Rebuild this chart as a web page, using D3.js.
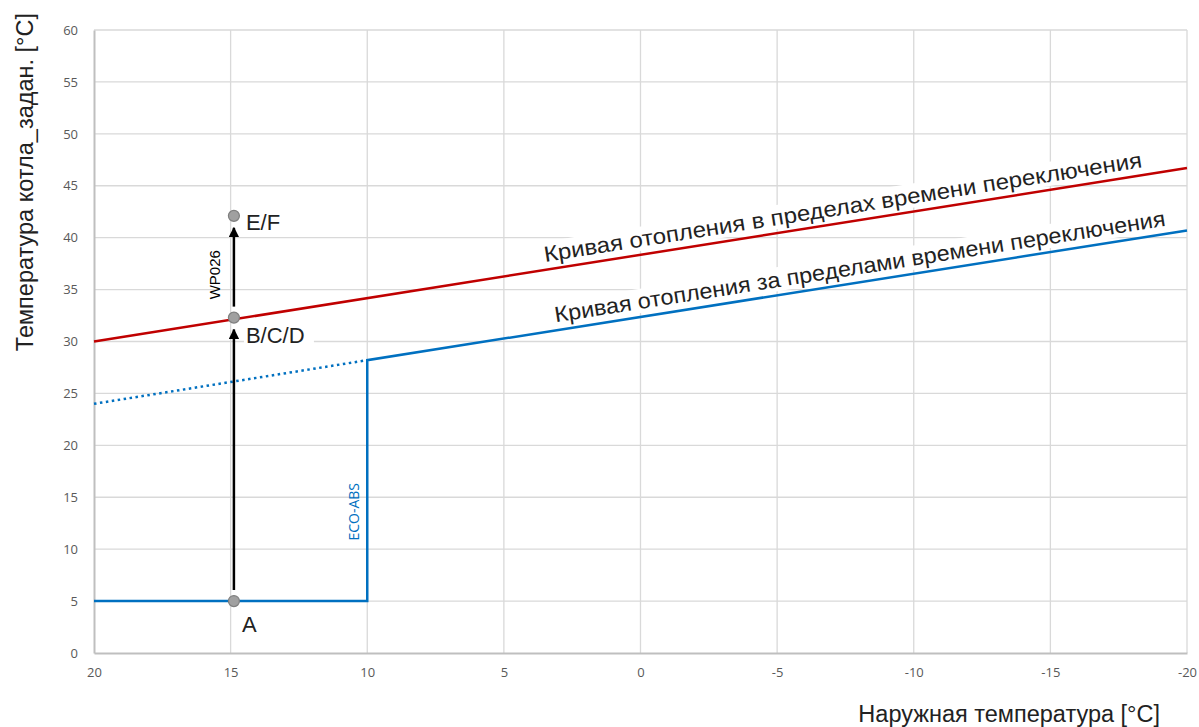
<!DOCTYPE html>
<html>
<head>
<meta charset="utf-8">
<script src="https://cdn.jsdelivr.net/npm/d3@7"></script>
<style>
  html, body { margin: 0; padding: 0; background: #fff; }
  svg { display: block; }
</style>
</head>
<body>
<svg id="chart" width="1199" height="727"></svg>
<script>
// Outside temperature axis (reversed: warm on the left, cold on the right)
const xTicks = [20, 15, 10, 5, 0, -5, -10, -15, -20];
const yTicks = [0, 5, 10, 15, 20, 25, 30, 35, 40, 45, 50, 55, 60];

// Heating curve inside switching time (red)
const curveInsideX = [20, -20];
const curveInsideY = [30, 46.7];

// Heating curve outside switching time (blue): ECO-ABS step, then curve
const curveOutsideX = [20, 10, 10, -20];
const curveOutsideY = [5, 5, 28.2, 40.7];

// Dotted continuation of the outside curve below the ECO-ABS limit
const dottedX = [20, 10];
const dottedY = [24.0, 28.2];

// Operating points
const pointNames = ["A", "B/C/D", "E/F"];
const pointX = [14.88, 14.88, 14.88];
const pointY = [5, 32.3, 42.1];

const svg = d3.select("#chart");
const margin = { left: 94, right: 12, top: 30, bottom: 74 };
const W = 1199, H = 727;

const x = d3.scaleLinear().domain([20, -20]).range([margin.left, W - margin.right]);
const y = d3.scaleLinear().domain([0, 60]).range([H - margin.bottom, margin.top]);

const tickFont = "'Open Sans', 'Liberation Sans', sans-serif";
const labelFont = "'Liberation Sans', Arial, sans-serif";

// Grid
const grid = svg.append("g");
grid.selectAll("line.h").data(yTicks.filter(d => d > 0)).join("line")
  .attr("x1", x(20)).attr("x2", x(-20))
  .attr("y1", d => y(d)).attr("y2", d => y(d))
  .attr("stroke", "#d9d9d9").attr("stroke-width", 1.3);
grid.selectAll("line.v").data(xTicks.filter(d => d !== 20)).join("line")
  .attr("x1", d => x(d)).attr("x2", d => x(d))
  .attr("y1", y(0)).attr("y2", y(60))
  .attr("stroke", "#d9d9d9").attr("stroke-width", 1.3);

// Axes
const xAxis = svg.append("g").attr("transform", `translate(0,${y(0)})`)
  .call(d3.axisBottom(x).tickValues(xTicks).tickSize(0).tickPadding(15).tickFormat(d3.format("d")));
const yAxis = svg.append("g").attr("transform", `translate(${x(20)},0)`)
  .call(d3.axisLeft(y).tickValues(yTicks).tickSize(0).tickPadding(16).tickFormat(d3.format("d")));
[xAxis, yAxis].forEach(a => {
  a.select(".domain").attr("stroke", "#bfbfbf").attr("stroke-width", 2);
  a.selectAll("text").attr("fill", "#595959").style("font-family", tickFont).style("font-size", "13px");
});
xAxis.selectAll("text").text(d => d < 0 ? "-" + Math.abs(d) : d);

// Axis titles
svg.append("text")
  .attr("x", 1160).attr("y", 722)
  .attr("text-anchor", "end")
  .style("font-family", labelFont).style("font-size", "23.5px").attr("fill", "#222")
  .text("Наружная температура [°C]");
svg.append("text")
  .attr("transform", `translate(33,13) rotate(-90)`)
  .attr("text-anchor", "end")
  .style("font-family", labelFont).style("font-size", "23.5px").attr("fill", "#222")
  .text("Температура котла_задан. [°C]");

const line = d3.line().x(d => x(d[0])).y(d => y(d[1]));

// Curve labels, rotated to follow the curves, each on a white box
function angleOf(xs, ys) {
  const dx = x(xs[xs.length - 1]) - x(xs[xs.length - 2]);
  const dy = y(ys[ys.length - 1]) - y(ys[ys.length - 2]);
  return Math.atan2(dy, dx) * 180 / Math.PI;
}
const angRed = angleOf(curveInsideX, curveInsideY);
const angBlue = angleOf(curveOutsideX, curveOutsideY);

function curveLabel(cx, cy, ang, len, text) {
  const g = svg.append("g").attr("transform", `translate(${cx},${cy}) rotate(${ang})`);
  g.append("rect").attr("x", -len / 2 - 4).attr("y", -20).attr("width", len + 8).attr("height", 24).attr("fill", "#fff");
  return g.append("text")
    .attr("text-anchor", "middle")
    .style("font-family", labelFont).style("font-size", "22px").attr("fill", "#222")
    .attr("textLength", len).attr("lengthAdjust", "spacingAndGlyphs")
    .text(text);
}
const labelLayer = svg.append("g");

// Dotted extension
svg.append("path")
  .attr("d", line(d3.zip(dottedX, dottedY)))
  .attr("fill", "none").attr("stroke", "#0070c0").attr("stroke-width", 2.5)
  .attr("stroke-dasharray", "2.5 3.5");

const redLabelCx = 844, blueLabelCx = 861;
const redLabel = curveLabel(redLabelCx, y(30 + (20 - x.invert(redLabelCx)) * 0.4175) - 8, angRed, 605,
  "Кривая отопления в пределах времени переключения");
const blueLabel = curveLabel(blueLabelCx, y(28.2 + (10 - x.invert(blueLabelCx)) * (12.5 / 30)) - 8, angBlue, 618,
  "Кривая отопления за пределами времени переключения");

// Red curve
svg.append("path")
  .attr("d", line(d3.zip(curveInsideX, curveInsideY)))
  .attr("fill", "none").attr("stroke", "#c00000").attr("stroke-width", 2.5);

// Blue curve with ECO-ABS step
svg.append("path")
  .attr("d", line(d3.zip(curveOutsideX, curveOutsideY)))
  .attr("fill", "none").attr("stroke", "#0070c0").attr("stroke-width", 2.5)
  .attr("stroke-linejoin", "miter");

// ECO-ABS label on the step
svg.append("text")
  .attr("transform", `translate(${x(10) - 8},${y(13.6)}) rotate(-90)`)
  .attr("text-anchor", "middle")
  .style("font-family", tickFont).style("font-size", "14px").attr("fill", "#0070c0")
  .text("ECO-ABS");

// Arrows between operating points
svg.append("defs").append("marker")
  .attr("id", "arrow").attr("viewBox", "0 0 10 10")
  .attr("refX", 9).attr("refY", 5)
  .attr("markerWidth", 4.2).attr("markerHeight", 4.2)
  .attr("orient", "auto")
  .append("path").attr("d", "M0,0 L10,5 L0,10 Z").attr("fill", "#000");

const ax = x(pointX[0]);
svg.append("line")
  .attr("x1", ax).attr("x2", ax)
  .attr("y1", y(pointY[0]) - 11).attr("y2", y(pointY[1]) + 12)
  .attr("stroke", "#000").attr("stroke-width", 2.5).attr("marker-end", "url(#arrow)");
svg.append("line")
  .attr("x1", ax).attr("x2", ax)
  .attr("y1", y(pointY[1]) - 11).attr("y2", y(pointY[2]) + 12)
  .attr("stroke", "#000").attr("stroke-width", 2.5).attr("marker-end", "url(#arrow)");

svg.append("text")
  .attr("transform", `translate(${ax - 14},${(y(pointY[1]) + y(pointY[2])) / 2 + 8}) rotate(-90)`)
  .attr("text-anchor", "middle")
  .style("font-family", labelFont).style("font-size", "15px").attr("fill", "#000")
  .text("WP026");

// Points
svg.selectAll("circle.pt").data(pointNames).join("circle")
  .attr("cx", (d, i) => x(pointX[i])).attr("cy", (d, i) => y(pointY[i]))
  .attr("r", 5.5)
  .attr("fill", "#a0a0a0").attr("stroke", "#7f7f7f").attr("stroke-width", 1.2);

// Point labels (B/C/D sits on a white box over the grid)
const labelOffsets = [[8, 31], [12, 25], [12, 14]];
pointNames.forEach((name, i) => {
  const px = x(pointX[i]) + labelOffsets[i][0];
  const py = y(pointY[i]) + labelOffsets[i][1];
  if (name === "B/C/D") {
    svg.append("rect").attr("x", px - 2).attr("y", py - 20).attr("width", 70).attr("height", 26).attr("fill", "#fff");
  }
  svg.append("text")
    .attr("x", px).attr("y", py)
    .style("font-family", labelFont).style("font-size", "22px").attr("fill", "#222")
    .text(name);
});
</script>
</body>
</html>
